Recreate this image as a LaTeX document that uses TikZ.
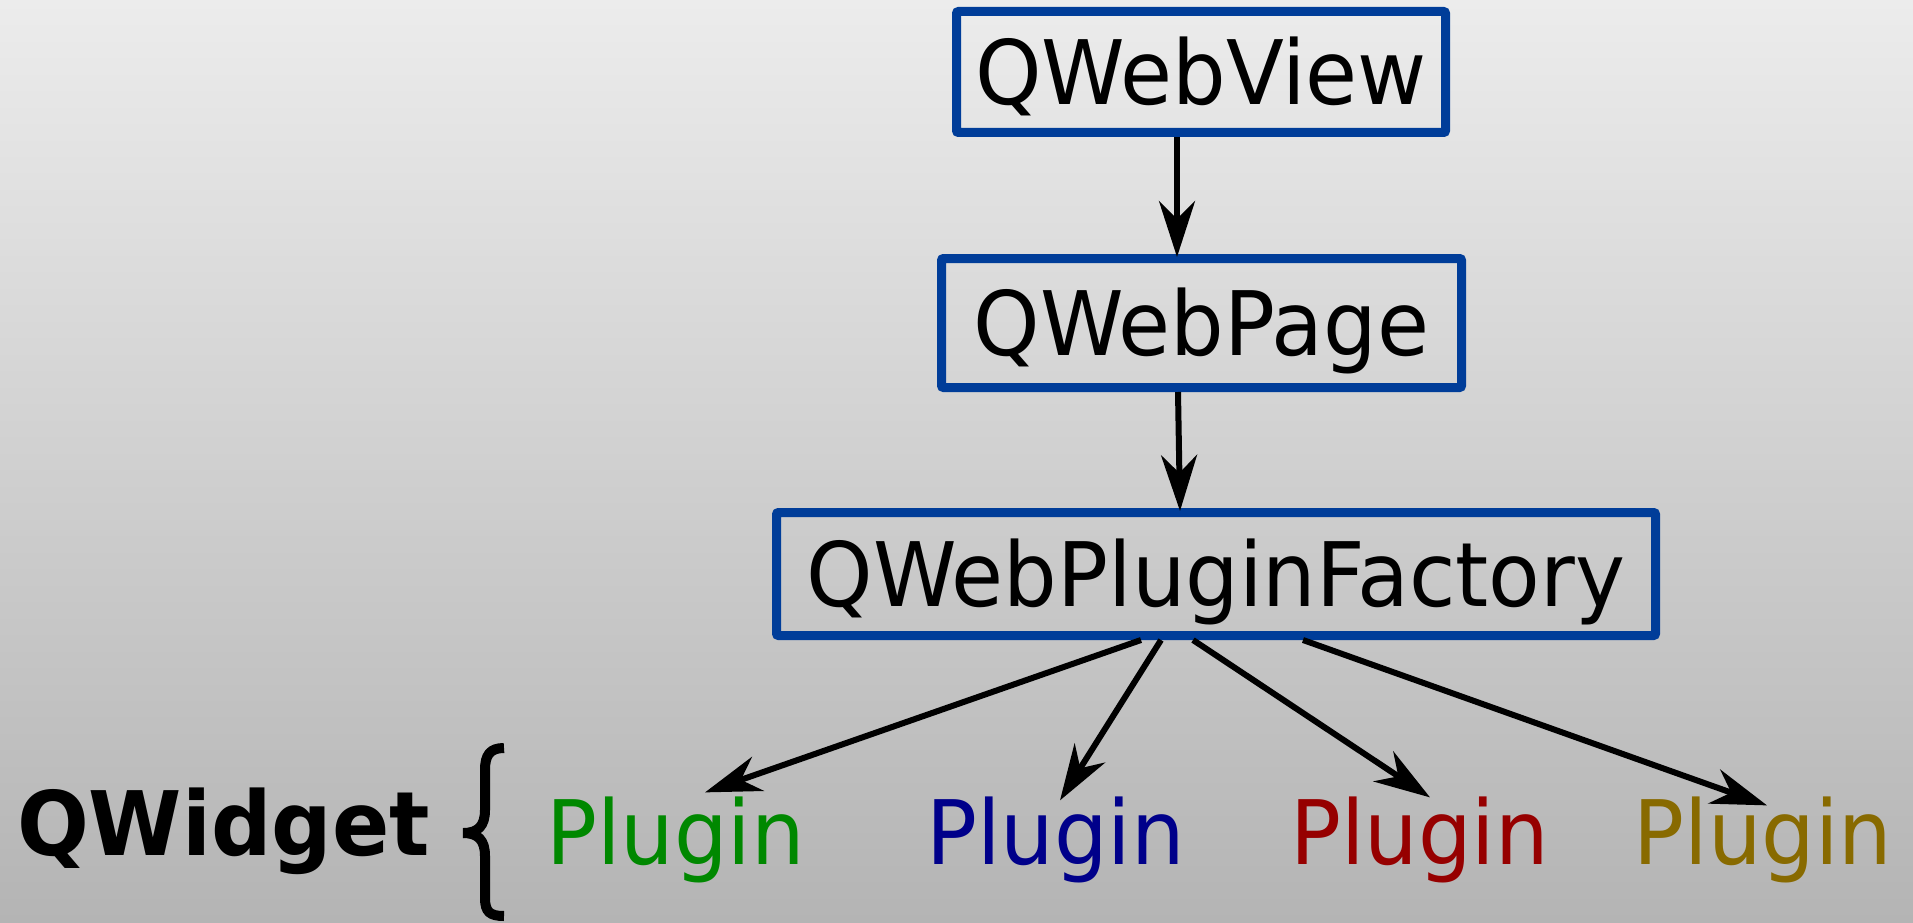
\documentclass[tikz,border=0pt]{standalone}
\usepackage{fontspec}
\setmainfont{DejaVu Sans}[FakeStretch=0.95]
\usetikzlibrary{arrows.meta}
\definecolor{boxblue}{RGB}{0,61,153}
\definecolor{bgtop}{RGB}{236,236,236}
\definecolor{bgbot}{RGB}{180,180,180}
\definecolor{pgreen}{RGB}{0,136,0}
\definecolor{pblue}{RGB}{0,0,138}
\definecolor{pred}{RGB}{150,0,0}
\definecolor{polive}{RGB}{136,106,0}
\newcommand\bigtxt{\fontsize{89}{100}\selectfont}
\begin{document}
\begin{tikzpicture}[x=1pt,y=-1pt,
  box/.style={draw=boxblue, line width=9pt, rounded corners=2pt, inner sep=0pt,
    text height=65pt, text depth=0pt, font=\bigtxt, align=center},
  arr/.style={line width=6pt, -{Stealth[length=56pt,width=36pt,inset=18pt]}},
  plug/.style={anchor=base, inner sep=0pt, outer sep=0pt, font=\bigtxt},
  bracepart/.style={line width=10pt, line cap=butt}]
\shade[top color=bgtop, bottom color=bgbot] (0,0) rectangle (1913,923);
\useasboundingbox (0,0) rectangle (1913,923);

\node[box, minimum width=489pt, minimum height=121pt] (v) at (1201,72) {QWebView};
\node[box, minimum width=520pt, minimum height=129pt] (p) at (1201.5,323) {QWebPage};
\node[box, minimum width=879pt, minimum height=123pt] (f) at (1216,574) {QWebPluginFactory};

\node[plug, text=pgreen] (p1) at (675.5,864) {Plugin};
\node[plug, text=pblue] (p2) at (1055.5,864) {Plugin};
\node[plug, text=pred] (p3) at (1419.5,864) {Plugin};
\node[plug, text=polive] (p4) at (1763,864) {Plugin};

\node[anchor=base, inner sep=0pt, font=\bigtxt\bfseries] (qw) at (223.5,855) {QWidget};

\draw[bracepart] (504,748) .. controls (490,748) and (485,755) .. (485,770) -- (485,810)
  .. controls (485,826) and (478,833) .. (463,833);
\draw[bracepart] (463,833) .. controls (478,833) and (485,840) .. (485,856) -- (485,898)
  .. controls (485,912) and (490,916) .. (504,916);

\draw[arr] ([xshift=-24pt]v.south) -- ([xshift=-24.5pt,yshift=-3pt]p.north);
\draw[arr] ([xshift=-23.5pt]p.south) -- ([xshift=-36pt,yshift=-3pt]f.north);

\draw[arr] ([xshift=-75pt]f.south) -- ([xshift=29.5pt,yshift=4pt]p1.north);
\draw[arr] ([xshift=-55pt]f.south) -- ([xshift=4.5pt,yshift=-4pt]p2.north);
\draw[arr] ([xshift=-23pt]f.south) -- ([xshift=10.5pt,yshift=-1pt]p3.north);
\draw[arr] ([xshift=87pt]f.south) -- ([xshift=4pt,yshift=-9pt]p4.north);
\end{tikzpicture}
\end{document}
